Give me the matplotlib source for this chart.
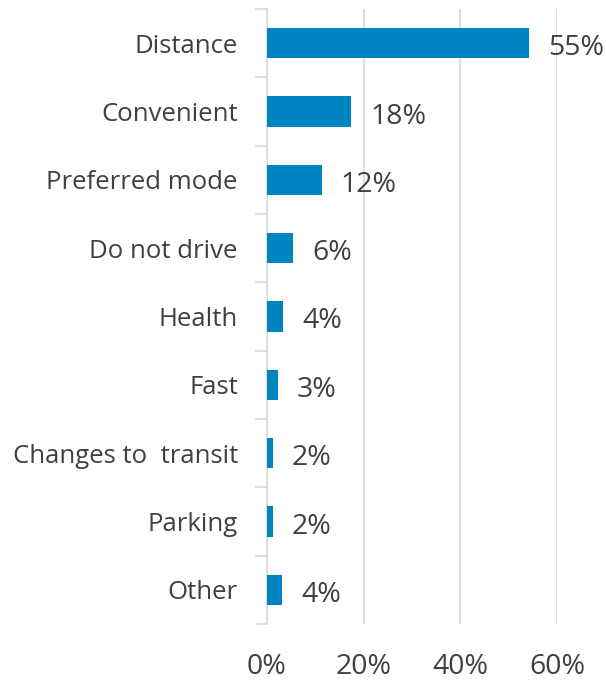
import matplotlib.pyplot as plt
from matplotlib.ticker import FixedLocator

# data (top to bottom as in the chart)
categories = ["Distance", "Convenient", "Preferred mode", "Do not drive", "Health",
              "Fast", "Changes to  transit", "Parking", "Other"]
shares = [0.543, 0.174, 0.113, 0.054, 0.033, 0.022, 0.012, 0.012, 0.032]
share_labels = ["55%", "18%", "12%", "6%", "4%", "3%", "2%", "2%", "4%"]
x_ticks = [0, 0.2, 0.4, 0.6]
x_tick_labels = ["0%", "20%", "40%", "60%"]

bar_color = "#0083C1"
text_color = "#404040"
grid_color = "#D9D9D9"

plt.rcParams['font.family'] = ['Open Sans', 'DejaVu Sans']

fig = plt.figure(figsize=(6.06, 6.81), dpi=100)
ax = fig.add_axes([267 / 606, 1 - 624 / 681, (557 - 267) / 606, (624 - 9) / 681])

n = len(categories)
ypos = list(range(n))
ax.barh(ypos, shares, height=0.44, color=bar_color, zorder=3)

ax.set_ylim(n - 0.5, -0.5)
ax.set_xlim(0, 0.6)

for y, v, lab in zip(ypos, shares, share_labels):
    ax.annotate(lab, (v, y), xytext=(19, -5), textcoords="offset pixels",
                ha="left", va="center", fontsize=20.5, color=text_color,
                annotation_clip=False)

# category labels, tick marks between categories
ax.set_yticks(ypos)
ax.set_yticklabels(categories, fontsize=18.5, color=text_color)
ax.tick_params(axis="y", which="major", length=0, pad=21)
ax.yaxis.set_minor_locator(FixedLocator([i - 0.5 for i in range(n + 1)]))
ax.tick_params(axis="y", which="minor", length=9, width=1.2, color=grid_color)

ax.set_xticks(x_ticks)
ax.set_xticklabels(x_tick_labels, fontsize=20.5, color=text_color)
ax.tick_params(axis="x", length=0, pad=21)
ax.xaxis.grid(True, color=grid_color, linewidth=1.2, zorder=0)

for s in ["top", "right", "bottom"]:
    ax.spines[s].set_visible(False)
ax.spines["left"].set_color(grid_color)
ax.spines["left"].set_linewidth(1.2)

fig.savefig("out.png", dpi=100)
